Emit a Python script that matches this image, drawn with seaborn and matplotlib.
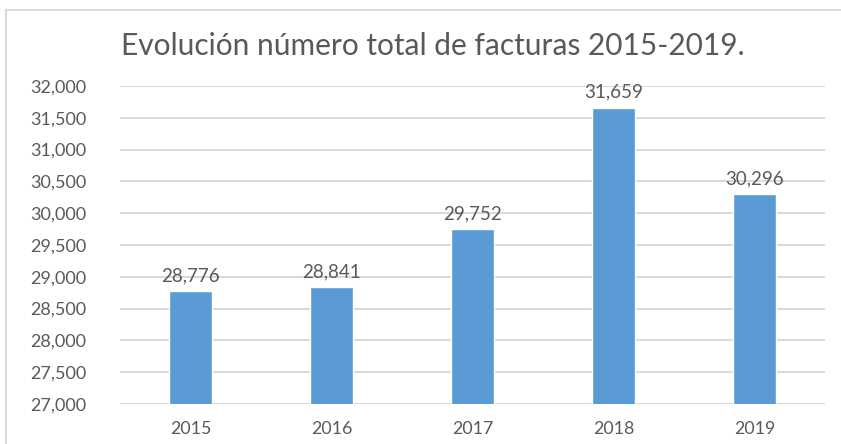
import matplotlib
matplotlib.use("Agg")
import matplotlib.pyplot as plt
from matplotlib.patches import Rectangle
from matplotlib.ticker import FuncFormatter, MultipleLocator
import seaborn as sns
import pandas as pd

years = ["2015", "2016", "2017", "2018", "2019"]
facturas = [28776, 28841, 29752, 31659, 30296]

title = "Evolución número total de facturas 2015-2019."
bar_color = "#5B9BD5"
text_color = "#595959"
grid_color = "#D9D9D9"

sns.set_theme(style="white")
plt.rcParams["font.family"] = ["Lato", "DejaVu Sans"]

df = pd.DataFrame({"year": years, "facturas": facturas})

fig = plt.figure(figsize=(8.41, 4.44), dpi=100)
ax = fig.add_axes([120 / 841, 1 - 404 / 444, (825 - 120) / 841, (404 - 86) / 444])

sns.barplot(data=df, x="year", y="facturas", color=bar_color, width=0.31,
            saturation=1, ax=ax, zorder=3)

ax.set_ylim(27000, 32000)
ax.yaxis.set_major_locator(MultipleLocator(500))
ax.yaxis.set_major_formatter(FuncFormatter(lambda v, p: f"{int(v):,}"))
ax.set_xlim(-0.5, len(years) - 0.5)

ax.grid(axis="y", color=grid_color, linewidth=1.5, zorder=0)
ax.set_axisbelow(True)
for s in ax.spines.values():
    s.set_visible(False)

ax.tick_params(axis="y", length=0, pad=24, labelsize=13, labelcolor=text_color)
ax.tick_params(axis="x", length=0, pad=12, labelsize=12.8, labelcolor=text_color)
ax.set_xlabel("")
ax.set_ylabel("")

for i, v in enumerate(facturas):
    ax.annotate(f"{v:,}", (i, v), xytext=(0, 5), textcoords="offset points",
                ha="center", va="bottom", fontsize=13.5, color=text_color)

fig.text(433 / 841, 1 - 46 / 444, title, ha="center", va="center",
         fontsize=21.5, color=text_color)

# chart frame
fig.patches.append(Rectangle((6 / 841, -0.1), 1.2, 1 - 10 / 444 + 0.1,
                             transform=fig.transFigure, fill=False,
                             edgecolor=grid_color, linewidth=1.5))

fig.savefig("out.png", dpi=100, facecolor="white")
